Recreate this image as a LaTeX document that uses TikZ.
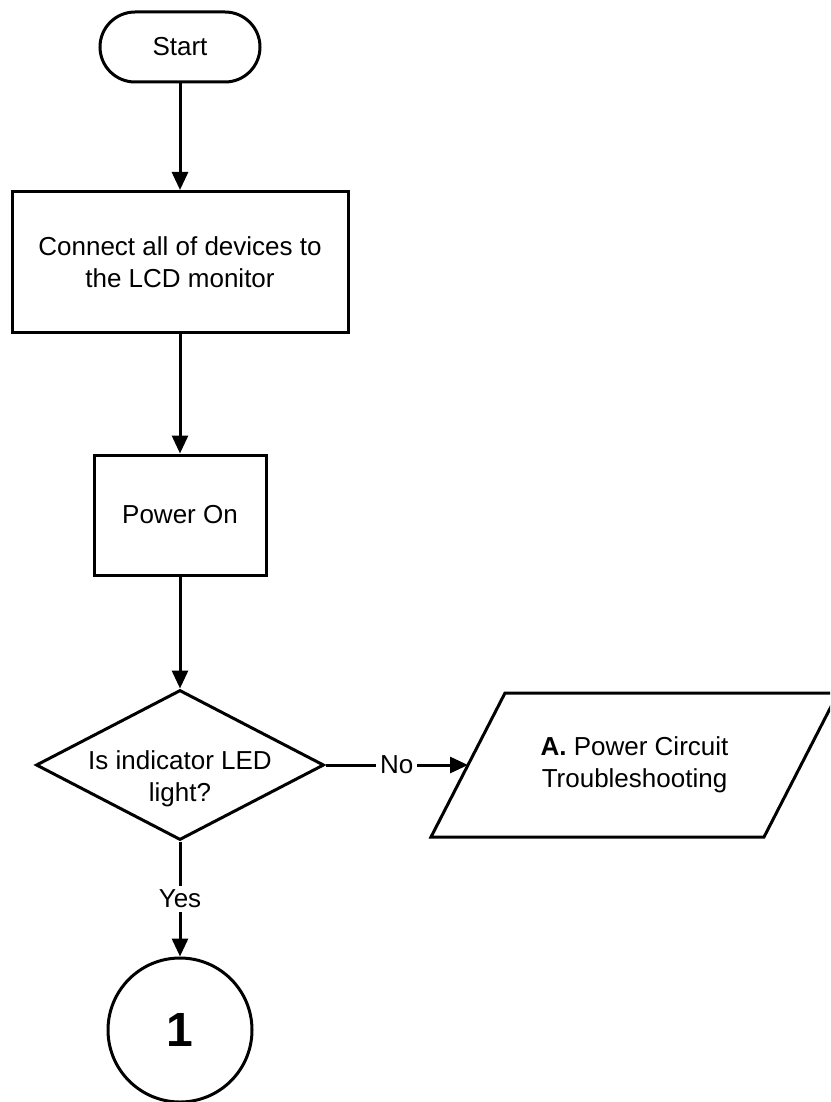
\documentclass[tikz,border=0pt]{standalone}
\usepackage{fontspec}
\setmainfont{Liberation Sans}
\usetikzlibrary{shapes.geometric, arrows.meta, positioning}

\begin{document}
\begin{tikzpicture}[x=1pt, y=-1pt,
    every node/.style={font=\fontsize{26}{31.5}\selectfont},
    flowbox/.style={draw=black, line width=3pt, align=center, inner sep=0pt},
    termbox/.style={flowbox, rectangle, rounded corners=35pt, minimum width=160pt, minimum height=70pt},
    procbox/.style={flowbox, rectangle},
    decbox/.style={flowbox, diamond, minimum width=288pt, minimum height=150pt},
    connbox/.style={flowbox, circle, minimum size=144pt, font=\fontsize{48}{58}\selectfont\bfseries},
    flowline/.style={line width=3pt},
    flowarrow/.style={flowline, -{Triangle[length=18pt, width=16pt]}},
    edgelbl/.style={fill=white, inner sep=4pt}
  ]
    \useasboundingbox (0,0) rectangle (830,1102);
    \clip (0,0) rectangle (830,1102);

    % main column
    \node[termbox] (start) at (180,47) {Start};
    \node[procbox, minimum width=336pt, minimum height=141pt] (connect) at (180,262) {Connect all of devices to\\the LCD monitor};
    \node[procbox, minimum width=172pt, minimum height=120pt] (poweron) at (180,515) {Power On};
    \node[decbox] (ledchk) at (180,765) {};
    \node[align=center] (ledtxt) at (180,779) {Is indicator LED\\light?};

    % data box on the right (cut by the page edge)
    \node[align=center] (pwrfix) at (634.5,765) {\textbf{A.} Power Circuit\\Troubleshooting};
    \draw[flowline] ([shift={(-129.5,-72)}]pwrfix.center) -- ++(333,0) -- ++(-74,144) -- ++(-333,0) -- cycle;
    \coordinate (pwrin) at ([shift={(-166.5,0)}]pwrfix.center);

    \node[connbox] (conn1) at (180,1030) {1};

    % connectors
    \draw[flowarrow] (start) -- (connect);
    \draw[flowarrow] (connect) -- (poweron);
    \draw[flowarrow] (poweron) -- (ledchk);
    \draw[flowarrow] (ledchk) -- node[edgelbl] {No} (pwrin);
    \draw[flowarrow] (ledchk) -- node[edgelbl] {Yes} (conn1);
\end{tikzpicture}
\end{document}
